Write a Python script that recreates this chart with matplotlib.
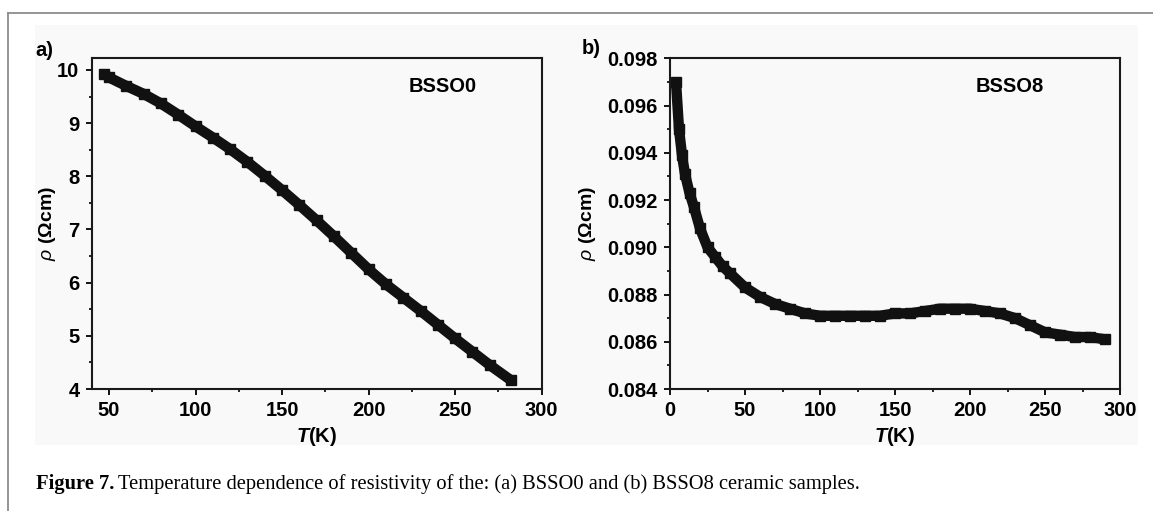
import numpy as np
import matplotlib
matplotlib.use("Agg")
import matplotlib.pyplot as plt
from matplotlib.ticker import MultipleLocator, FormatStrFormatter
from matplotlib.patches import Rectangle
from matplotlib.lines import Line2D

plt.rcParams["font.family"] = ["Liberation Sans", "DejaVu Sans"]
plt.rcParams["mathtext.fontset"] = "custom"
plt.rcParams["mathtext.it"] = "Liberation Sans:italic"
plt.rcParams["mathtext.rm"] = "Liberation Sans"
plt.rcParams["mathtext.bfit"] = "Liberation Sans:italic:bold"

# (a) BSSO0
t_a = [47, 50, 60, 70, 80, 90, 100, 110, 120, 130, 140, 150, 160, 170,
       180, 190, 200, 210, 220, 230, 240, 250, 260, 270, 282]
rho_a = [9.93, 9.86, 9.70, 9.55, 9.37, 9.16, 8.94, 8.73, 8.51, 8.27, 8.01,
         7.74, 7.46, 7.17, 6.87, 6.56, 6.25, 5.97, 5.72, 5.47, 5.21, 4.95,
         4.70, 4.45, 4.17]

# (b) BSSO8
t_b = [4, 6, 8, 10, 13, 16, 20, 25, 30, 35, 40, 50, 60, 70, 80, 90, 100,
       110, 120, 130, 140, 150, 160, 170, 180, 190, 200, 210, 220, 230, 240,
       250, 260, 270, 280, 290]
rho_b = [0.0970, 0.0950, 0.0939, 0.0931, 0.0923, 0.0917, 0.0908, 0.0900,
         0.0896, 0.0892, 0.0889, 0.0883, 0.0879, 0.0876, 0.0874, 0.0872,
         0.0871, 0.0871, 0.0871, 0.0871, 0.0871, 0.0872, 0.0872, 0.0873,
         0.0874, 0.0874, 0.0874, 0.0873, 0.0872, 0.0870, 0.0867, 0.0864,
         0.0863, 0.0862, 0.0862, 0.0861]

W, H = 1153, 511
fig = plt.figure(figsize=(W / 100, H / 100), dpi=100)

# light background box and grey frame lines
fig.patches.append(Rectangle((35 / W, 1 - 445 / H), (1138 - 35) / W, (445 - 25) / H,
                             transform=fig.transFigure, facecolor="#f9f9f9",
                             edgecolor="none", zorder=-5))
fig.lines.append(Line2D([8 / W, 1], [1 - 13 / H, 1 - 13 / H], transform=fig.transFigure,
                        color="#8c8c8c", lw=1.3))
fig.lines.append(Line2D([8 / W, 8 / W], [0, 1 - 13 / H], transform=fig.transFigure,
                        color="#8c8c8c", lw=1.3))

ax_w = 450 / W
ax_h = (389 - 58.3) / H
bottom = 1 - 389 / H
ax1 = fig.add_axes([91.7 / W, bottom, ax_w, ax_h])
ax2 = fig.add_axes([670 / W, bottom, ax_w, ax_h])

for ax in (ax1, ax2):
    ax.set_facecolor("none")
    for s in ax.spines.values():
        s.set_linewidth(1.5)
        s.set_color("#1a1a1a")
    ax.tick_params(which="major", direction="out", length=4.3, width=1.3,
                   labelsize=14.5, pad=4.5, top=False, right=False)
    ax.tick_params(which="minor", direction="out", length=2.5, width=1.2,
                   top=False, right=False)

ax1.plot(t_a, rho_a, color="#111111", lw=7.5, marker="s", ms=7.5,
         solid_capstyle="butt")
ax1.set_xlim(40, 300)
ax1.set_ylim(4, 10.22)
ax1.xaxis.set_major_locator(MultipleLocator(50))
ax1.xaxis.set_minor_locator(MultipleLocator(25))
ax1.yaxis.set_major_locator(MultipleLocator(1))
ax1.yaxis.set_minor_locator(MultipleLocator(0.5))

ax2.plot(t_b, rho_b, color="#111111", lw=7.5, marker="s", ms=7.5,
         solid_capstyle="butt")
ax2.set_xlim(0, 300)
ax2.set_ylim(0.084, 0.098)
ax2.xaxis.set_major_locator(MultipleLocator(50))
ax2.xaxis.set_minor_locator(MultipleLocator(25))
ax2.yaxis.set_major_locator(MultipleLocator(0.002))
ax2.yaxis.set_minor_locator(MultipleLocator(0.001))
ax2.yaxis.set_major_formatter(FormatStrFormatter("%.3f"))

for ax in (ax1, ax2):
    for lab in ax.get_xticklabels() + ax.get_yticklabels():
        lab.set_fontweight("bold")
    ax.set_xlabel(r"$\mathbfit{T}$(K)", fontsize=14.5, fontweight="bold")
    ax.set_ylabel(r"$\rho$ (Ωcm)", fontsize=14, fontweight="bold")
    ax.xaxis.set_label_coords(0.5, -0.11)

ax1.yaxis.set_label_coords(-0.075, 0.5)
ax2.yaxis.set_label_coords(-0.16, 0.5)

ax1.text(0.78, 0.915, "BSSO0", transform=ax1.transAxes, fontsize=14.5,
         fontweight="bold", ha="center", va="center")
ax2.text(0.755, 0.915, "BSSO8", transform=ax2.transAxes, fontsize=14.5,
         fontweight="bold", ha="center", va="center")

fig.text(35 / W, 1 - 50 / H, "a)", fontsize=14.5, fontweight="bold", va="center")
fig.text(582 / W, 1 - 49 / H, "b)", fontsize=14.5, fontweight="bold", va="center")

# caption
renderer = fig.canvas.get_renderer()
cap1 = fig.text(36 / W, 1 - 489 / H, "Figure 7.", fontsize=14.8,
                family="Liberation Serif", fontweight="bold", va="baseline")
bb = cap1.get_window_extent(renderer)
fig.text((bb.x1 + 4) / W, 1 - 489 / H,
         "Temperature dependence of resistivity of the: (a) BSSO0 and (b) BSSO8 ceramic samples.",
         fontsize=14.8, family="Liberation Serif", va="baseline")

fig.savefig("out.png", dpi=100)
